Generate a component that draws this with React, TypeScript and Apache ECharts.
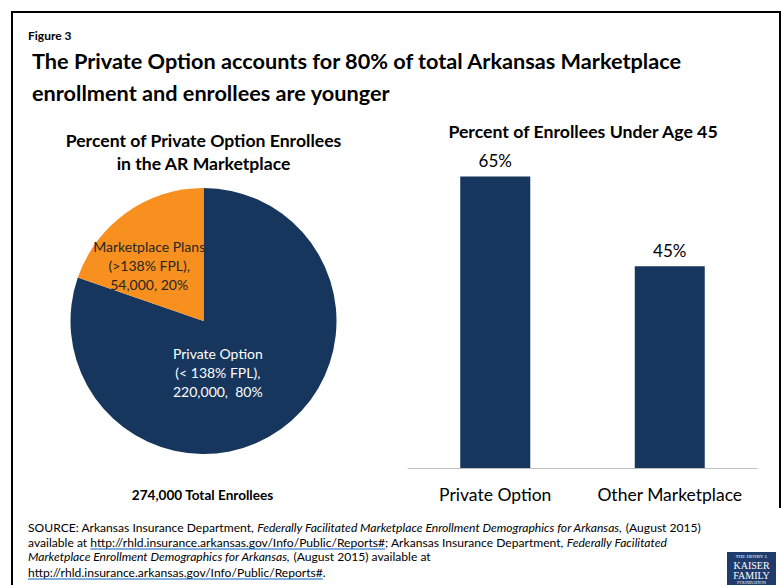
import React, { useEffect, useRef } from "react";
import * as echarts from "echarts";

const pieNames = ["Private Option", "Marketplace Plans"];
const pieQualifiers = ["(< 138% FPL),", "(>138% FPL),"];
const pieValues = [220000, 54000];
const pieColors = ["#17365d", "#f7901e"];

const barCategories = ["Private Option", "Other Marketplace"];
const barValues = [65, 45];

const FONT = "Lato, 'Open Sans', sans-serif";
const NAVY = "#17365d";
const LINK = "#0563c1";
const SRC_URL = "http://rhld.insurance.arkansas.gov/Info/Public/Reports#";

export default function App() {
  const ref = useRef<HTMLDivElement>(null);
  useEffect(() => {
    if (!ref.current) return;
    const chart = echarts.init(ref.current, null, { renderer: "svg" });
    const total = pieValues.reduce((a, b) => a + b, 0);
    const fmt = (n: number) => n.toLocaleString("en-US");

    const srcX = 28;
    const srcSize = 12.1;
    const measure = (text: string) => {
      const t = new (echarts.graphic as any).Text({ style: { text, font: `${srcSize}px ${FONT}` } });
      return t.getBoundingRect().width;
    };
    const urlW = measure(SRC_URL);
    const availW = measure("available at ");

    const srcText = (text: string, y: number) => ({
      type: "text",
      x: srcX,
      y,
      style: {
        text,
        font: `${srcSize}px ${FONT}`,
        fill: "#000",
        textVerticalAlign: "middle",
        rich: {
          n: { fontSize: srcSize, fontFamily: FONT, color: "#000" },
          i: { fontSize: srcSize, fontFamily: FONT, color: "#000", fontStyle: "italic" },
          l: { fontSize: srcSize, fontFamily: FONT, color: LINK },
        },
      },
    });

    const logoText = (text: string, y: number, size: number) => ({
      type: "text",
      x: 751.5,
      y,
      style: {
        text,
        font: `${size}px 'Liberation Serif', serif`,
        fill: "#fff",
        textAlign: "center",
        textVerticalAlign: "middle",
      },
    });

    const centered = (text: string, x: number, y: number, font: string) => ({
      type: "text",
      x,
      y,
      style: { text, font, fill: "#000", textAlign: "center", textVerticalAlign: "middle" },
    });

    const option: any = {
      animation: false,
      backgroundColor: "#fff",
      textStyle: { fontFamily: FONT },
      grid: { left: 408, right: 25, top: 154, bottom: 117 },
      xAxis: {
        type: "category",
        data: barCategories,
        axisLine: { lineStyle: { color: "#bfbfbf", width: 1 } },
        axisTick: { show: false },
        axisLabel: { interval: 0, fontSize: 17.5, color: "#000", margin: 17, fontFamily: FONT },
      },
      yAxis: { type: "value", min: 0, max: 70, show: false, splitLine: { show: false } },
      series: [
        {
          type: "bar",
          data: barValues,
          barWidth: 70,
          itemStyle: { color: NAVY },
          label: {
            show: true,
            position: "top",
            distance: 7,
            formatter: "{c}%",
            fontSize: 17,
            color: "#000",
            fontFamily: FONT,
          },
        },
        {
          type: "pie",
          center: [203.5, 321],
          radius: 133,
          startAngle: 90,
          clockwise: true,
          data: pieNames.map((name, i) => ({
            name,
            value: pieValues[i],
            itemStyle: { color: pieColors[i] },
            label: { color: i === 0 ? "#fff" : "#262626" },
          })),
          label: {
            show: true,
            position: "inside",
            fontSize: 14,
            lineHeight: 19,
            fontFamily: FONT,
            align: "center",
            formatter: (p: any) => {
              const i = p.dataIndex;
              const pct = Math.round((pieValues[i] / total) * 100);
              const sep = i === 0 ? ",  " : ", ";
              return `${pieNames[i]}\n${pieQualifiers[i]}\n${fmt(pieValues[i])}${sep}${pct}%`;
            },
          },
          labelLayout: (p: any) =>
            p.dataIndex === 0 ? { dx: -26, dy: -5 } : { dx: -14, dy: 1 },
          labelLine: { show: false },
          emphasis: { disabled: true },
        },
      ],
      graphic: [
        {
          type: "polyline",
          shape: { points: [[12, 590], [12, 12], [780, 12], [780, 508]] },
          style: { stroke: "#000", lineWidth: 2, fill: null },
        },
        {
          type: "text",
          x: 28,
          y: 35,
          style: { text: "Figure 3", font: `bold 12px ${FONT}`, fill: "#000", textVerticalAlign: "middle" },
        },
        {
          type: "text",
          x: 32,
          y: 61,
          style: {
            text: "The Private Option accounts for 80% of total Arkansas Marketplace",
            font: `bold 21.7px ${FONT}`,
            fill: "#000",
            textVerticalAlign: "middle",
          },
        },
        {
          type: "text",
          x: 32,
          y: 93,
          style: {
            text: "enrollment and enrollees are younger",
            font: `bold 21.7px ${FONT}`,
            fill: "#000",
            textVerticalAlign: "middle",
          },
        },
        centered("Percent of Private Option Enrollees", 203.5, 140, `bold 17.6px ${FONT}`),
        centered("in the AR Marketplace", 203.5, 163, `bold 17.6px ${FONT}`),
        centered("Percent of Enrollees Under Age 45", 583, 131, `bold 17.7px ${FONT}`),
        centered(`${fmt(total)} Total Enrollees`, 202.5, 495, `bold 13.6px ${FONT}`),
        srcText(
          "{n|SOURCE: Arkansas Insurance Department, }{i|Federally Facilitated Marketplace Enrollment Demographics for Arkansas,}{n| (August 2015)}",
          527
        ),
        srcText(
          `{n|available at }{l|${SRC_URL}}{n|; Arkansas Insurance Department, }{i|Federally Facilitated}`,
          542
        ),
        srcText(
          "{i|Marketplace Enrollment Demographics for Arkansas,}{n| (August 2015) available at}",
          556.5
        ),
        srcText(`{l|${SRC_URL}}{n|.}`, 572),
        {
          type: "line",
          shape: { x1: srcX + availW, y1: 549, x2: srcX + availW + urlW, y2: 549 },
          style: { stroke: LINK, lineWidth: 1 },
        },
        {
          type: "line",
          shape: { x1: srcX, y1: 579, x2: srcX + urlW, y2: 579 },
          style: { stroke: LINK, lineWidth: 1 },
        },
        {
          type: "rect",
          shape: { x: 727, y: 552, width: 49, height: 33 },
          style: { fill: "#1f3b6b" },
        },
        logoText("THE HENRY J.", 556.5, 5),
        logoText("KAISER", 565.5, 10),
        logoText("FAMILY", 575, 10),
        logoText("FOUNDATION", 582.5, 4.5),
      ],
    };
    chart.setOption(option);
    return () => chart.dispose();
  }, []);
  return (
    <div
      ref={ref}
      style={{ position: "fixed", left: 0, top: 0, width: 782, height: 585, background: "#fff" }}
    />
  );
}
